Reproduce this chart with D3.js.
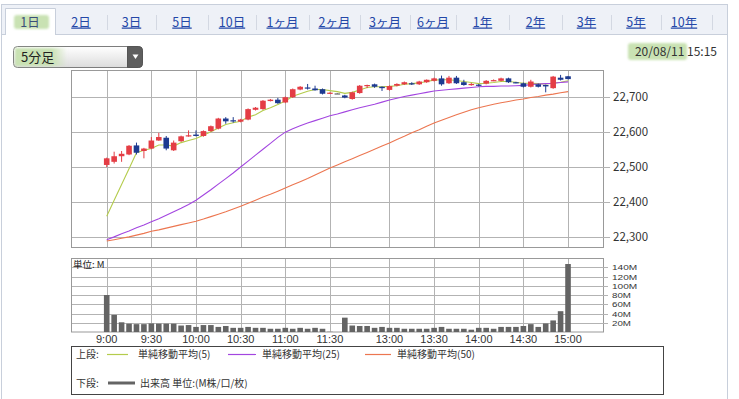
<!DOCTYPE html>
<html>
<head>
<meta charset="utf-8">
<script src="https://cdn.jsdelivr.net/npm/d3@7"></script>
<style>
body { margin: 0; background: #fff; }
svg { display: block; font-family: "Noto Sans CJK JP", "Noto Sans", sans-serif; }
</style>
</head>
<body>
<svg width="739" height="399"></svg>
<script>
// 5-minute bars, slot 0 = 9:00 ... slot 62 = 15:00 (slot 31 = lunch gap)
var open = [22506,22515,22531,22536,22562,22546,22553,22576,22584,22548,
    22574,22588,22593,22589,22603,22610,22639,22634,22630,22636,
    22664,22666,22689,22693,22685,22700,22722,22728,22725,22723,
    22711,22711,22705,22695,22712,22733,22737,22730,22721,22733,
    22737,22740,22737,22743,22747,22754,22740,22756,22743,22736,
    22736,22739,22747,22747,22754,22743,22740,22730,22737,22735,
    22726,22756,22760];
var high = [22527,22544,22546,22563,22570,22555,22586,22598,22589,22576,
    22590,22605,22605,22605,22619,22641,22643,22643,22638,22668,
    22672,22692,22695,22698,22702,22725,22732,22738,22733,22725,
    22714,22712,22707,22716,22735,22736,22739,22731,22734,22740,
    22745,22743,22747,22751,22756,22762,22761,22761,22750,22741,
    22738,22749,22751,22756,22756,22744,22742,22750,22739,22736,
    22761,22764,22761];
var low = [22500,22510,22515,22534,22536,22525,22551,22575,22548,22546,
    22572,22587,22588,22587,22601,22608,22624,22627,22628,22634,
    22662,22664,22688,22681,22683,22698,22720,22722,22719,22708,
    22710,22710,22697,22693,22710,22726,22727,22718,22719,22731,
    22735,22735,22735,22741,22745,22733,22738,22738,22733,22733,
    22731,22737,22746,22745,22741,22740,22728,22728,22728,22714,
    22724,22748,22751];
var close = [22525,22531,22538,22561,22541,22553,22576,22586,22553,22570,
    22588,22591,22589,22603,22617,22639,22631,22631,22636,22666,
    22670,22690,22693,22683,22700,22723,22730,22726,22720,22710,
    22713,22711,22699,22714,22733,22735,22730,22726,22732,22738,
    22743,22737,22745,22750,22754,22737,22756,22740,22735,22738,
    22734,22747,22749,22754,22743,22742,22730,22745,22730,22731,
    22759,22750,22752];
var volume = [80,37,21,18,17,17,18.5,18,18,18,
    14,15,11,15,15,11,13,9,9,11,
    9,9,7,7,9,7,9,7,9,7,
    0.5,0,31,14,13,13,9,11,9,9,
    7,7,7,7,9,11,7,7,7,5,
    9,9,7,11,11,11,13,17,11,18.5,
    25,45,147];
var ma5 = [22359,22405,22450,22495,22541,22548,22553,22563,22563,22560,
    22570,22576,22582,22591,22601,22612,22622,22627,22631,22643,
    22650,22662,22670,22679,22689,22703,22710,22717,22722,22722,
    22719,22716,22711,22714,22721,22728,22730,22730,22731,22733,
    22737,22739,22741,22745,22749,22750,22750,22748,22745,22742,
    22739,22740,22742,22745,22745,22743,22740,22740,22739,22738,
    22740,22743,22747];
var ma25 = [22292,22300,22309,22317,22326,22334,22343,22352,22362,22372,
    22382,22393,22405,22420,22435,22451,22467,22483,22500,22517,
    22534,22551,22568,22585,22600,22610,22618,22626,22633,22640,
    22647,22652,22658,22664,22670,22675,22680,22686,22692,22697,
    22702,22706,22710,22714,22718,22720,22722,22724,22726,22728,
    22730,22731,22731,22732,22732,22733,22734,22736,22738,22739,
    22740,22742,22744];
var ma50 = [22288,22292,22296,22300,22305,22310,22316,22320,22325,22330,
    22335,22340,22345,22351,22358,22365,22372,22380,22388,22396,
    22405,22414,22422,22431,22440,22449,22458,22467,22477,22487,
    22497,22506,22515,22524,22533,22542,22551,22560,22569,22579,
    22588,22598,22607,22617,22626,22634,22642,22650,22657,22664,
    22670,22675,22680,22684,22688,22692,22695,22699,22702,22706,
    22709,22713,22716];

var timeSlots = [0, 6, 12, 18, 24, 30, 38, 44, 50, 56, 62];
var timeLabels = ["9:00","9:30","10:00","10:30","11:00","11:30","13:00","13:30","14:00","14:30","15:00"];
var priceTicks = [22300, 22400, 22500, 22600, 22700];
var volTicks = [20, 40, 60, 80, 100, 120, 140];
var tabLabels = ["1日","2日","3日","5日","10日","1ヶ月","2ヶ月","3ヶ月","6ヶ月","1年","2年","3年","5年","10年"];
var tabSeps = [55, 107, 156, 208, 256, 309, 360, 410, 456, 509, 562, 611, 661, 712];

var svg = d3.select("svg");
var defs = svg.append("defs");
defs.append("filter").attr("id", "soft")
    .append("feGaussianBlur").attr("stdDeviation", 1.2);
var g1 = defs.append("linearGradient").attr("id", "dd").attr("x1", 0).attr("x2", 0).attr("y1", 0).attr("y2", 1);
g1.append("stop").attr("offset", "0%").attr("stop-color", "#ffffff");
g1.append("stop").attr("offset", "100%").attr("stop-color", "#dcdcdc");
var g2 = defs.append("linearGradient").attr("id", "hl");
g2.append("stop").attr("offset", "0%").attr("stop-color", "#c9e2b3");
g2.append("stop").attr("offset", "70%").attr("stop-color", "#c9e2b3");
g2.append("stop").attr("offset", "100%").attr("stop-color", "#c9e2b3").attr("stop-opacity", 0);

// outer frame and tab bar
svg.append("rect").attr("x", 1.5).attr("y", 4.5).attr("width", 726).attr("height", 400)
    .attr("fill", "#fff").attr("stroke", "#c8cfdb");
svg.append("rect").attr("x", 2).attr("y", 5).attr("width", 725).attr("height", 29.5).attr("fill", "#eef1f7");
svg.append("line").attr("x1", 2).attr("x2", 727).attr("y1", 34.5).attr("y2", 34.5).attr("stroke", "#c8cfdb");
svg.append("path").attr("d", "M5.5,35V8.5H55.5V35").attr("fill", "#fff").attr("stroke", "#c8cfdb");
svg.append("rect").attr("x", 6).attr("y", 34).attr("width", 49).attr("height", 2).attr("fill", "#fff");
svg.append("rect").attr("x", 14).attr("y", 15).attr("width", 35).attr("height", 14).attr("rx", 3)
    .attr("fill", "#c9e2b3").attr("filter", "url(#soft)");

tabSeps.slice(1).forEach(function(s) {
    svg.append("line").attr("x1", s + 0.5).attr("x2", s + 0.5).attr("y1", 15).attr("y2", 30).attr("stroke", "#d3d8e2");
});
tabLabels.forEach(function(t, i) {
    var left = i == 0 ? 5 : tabSeps[i - 1];
    var cx = (left + tabSeps[i]) / 2;
    if (i == tabLabels.length - 1) cx = 684;
    svg.append("text").attr("x", cx).attr("y", 26.5).attr("text-anchor", "middle")
        .attr("font-size", 12.5).attr("fill", i == 0 ? "#3b4f7a" : "#2347a8")
        .attr("text-decoration", i == 0 ? "none" : "underline")
        .text(t);
});

// dropdown
svg.append("rect").attr("x", 13.5).attr("y", 46.5).attr("width", 129).attr("height", 21).attr("rx", 4)
    .attr("fill", "url(#dd)").attr("stroke", "#7d7d7d");
svg.append("path").attr("d", "M127.5,46.5H138.5A4,4 0 0 1 142.5,50.5V63.5A4,4 0 0 1 138.5,67.5H127.5Z")
    .attr("fill", "#5e5e5e").attr("stroke", "#555");
svg.append("path").attr("d", "M132.5,54.5L138.5,54.5L135.5,59Z").attr("fill", "#fff");
svg.append("rect").attr("x", 15).attr("y", 48).attr("width", 52).attr("height", 18)
    .attr("fill", "url(#hl)").attr("filter", "url(#soft)");
svg.append("text").attr("x", 21).attr("y", 61.5).attr("font-size", 13).attr("fill", "#222").text("5分足");

// date
svg.append("rect").attr("x", 628).attr("y", 43).attr("width", 59).attr("height", 17).attr("rx", 3)
    .attr("fill", "#c9e2b3").attr("filter", "url(#soft)");
svg.append("text").attr("x", 717).attr("y", 56).attr("text-anchor", "end").attr("font-size", 12)
    .attr("fill", "#333").text("20/08/11 15:15");

// scales
var x = d3.scaleLinear().domain([-4.8, 66.7]).range([71, 603]);
var y = d3.scaleLinear().domain([22271, 22778]).range([247, 70]);
var yv = d3.scaleLinear().domain([0, 160]).range([332, 258]);

var grid = "#b3b3b3";
var price = svg.append("g");
price.append("rect").attr("x", 71.5).attr("y", 70.5).attr("width", 532).attr("height", 177)
    .attr("fill", "#fff").attr("stroke", "#999");
price.selectAll(".vg").data(timeSlots).enter().append("line")
    .attr("x1", d => Math.round(x(d)) + 0.5).attr("x2", d => Math.round(x(d)) + 0.5)
    .attr("y1", 71).attr("y2", 247).attr("stroke", grid);
price.selectAll(".hg").data(priceTicks).enter().append("line")
    .attr("x1", 72).attr("x2", 610)
    .attr("y1", d => Math.round(y(d)) + 0.5).attr("y2", d => Math.round(y(d)) + 0.5)
    .attr("stroke", grid);
price.selectAll(".pl").data(priceTicks).enter().append("text")
    .attr("x", 613).attr("y", d => y(d) + 4).attr("font-size", 11.5).attr("fill", "#333")
    .text(d => d3.format(",")(d));

// moving averages
var slots = d3.range(open.length);
[[ma5, "#b4cc4c"], [ma25, "#a346e0"], [ma50, "#ec7650"]].forEach(function(s) {
    var line = d3.line().x(i => x(i)).y(i => y(s[0][i]));
    price.append("path").attr("d", line(slots)).attr("fill", "none")
        .attr("stroke", s[1]).attr("stroke-width", 1.1);
});

// candles
function colour(i) {
    if (close[i] > open[i]) return "#e43d45";
    if (close[i] < open[i]) return "#1d3a90";
    return "#666";
}
var c = price.selectAll(".c").data(slots).enter().append("g");
c.append("line")
    .attr("x1", i => x(i)).attr("x2", i => x(i))
    .attr("y1", i => y(high[i])).attr("y2", i => y(low[i]))
    .attr("stroke", colour).attr("stroke-width", 1);
c.append("rect")
    .attr("x", i => x(i) - 2.8).attr("width", 5.6)
    .attr("y", i => y(Math.max(open[i], close[i])))
    .attr("height", i => Math.max(1.2, Math.abs(y(open[i]) - y(close[i]))))
    .attr("fill", colour);

// volume panel
var vol = svg.append("g");
vol.append("rect").attr("x", 71.5).attr("y", 258.5).attr("width", 532).attr("height", 73.5)
    .attr("fill", "#fff").attr("stroke", "#999");
vol.selectAll(".vh").data(volTicks).enter().append("line")
    .attr("x1", 72).attr("x2", 608)
    .attr("y1", d => Math.round(yv(d)) + 0.5).attr("y2", d => Math.round(yv(d)) + 0.5)
    .attr("stroke", grid);
vol.selectAll(".vv").data(timeSlots).enter().append("line")
    .attr("x1", d => Math.round(x(d)) + 0.5).attr("x2", d => Math.round(x(d)) + 0.5)
    .attr("y1", 259).attr("y2", 332).attr("stroke", grid);
vol.selectAll(".vb").data(slots).enter().append("rect")
    .attr("x", i => x(i) - 2.8).attr("width", 5.6)
    .attr("y", i => yv(volume[i])).attr("height", i => yv(0) - yv(volume[i]))
    .attr("fill", "#646464");
// labels are packed tightly, so a short font stretched sideways
vol.selectAll(".vl").data(volTicks).enter().append("text")
    .attr("x", 612).attr("y", d => yv(d) + 3.2)
    .attr("font-family", "Liberation Sans").attr("font-size", 8.1).attr("fill", "#333")
    .attr("textLength", d => (d + "M").length * 6.3).attr("lengthAdjust", "spacingAndGlyphs")
    .text(d => d + "M");
vol.append("text").attr("x", 73).attr("y", 268).attr("font-size", 9.5).attr("fill", "#222").text("単位: M");

// time axis
svg.selectAll(".tl").data(timeSlots).enter().append("text")
    .attr("x", d => x(d)).attr("y", 343).attr("text-anchor", "middle")
    .attr("font-family", "Liberation Sans").attr("font-size", 11).attr("fill", "#333")
    .text((d, i) => timeLabels[i]);

// legend
var lg = svg.append("g").attr("font-size", 10).attr("fill", "#333");
lg.append("rect").attr("x", 71.5).attr("y", 346.5).attr("width", 592).attr("height", 48)
    .attr("fill", "#fff").attr("stroke", "#444");
lg.append("text").attr("x", 76).attr("y", 358).text("上段:");
[[107, 128, "#b4cc4c", 138, "単純移動平均(5)"],
 [228, 256, "#a346e0", 262, "単純移動平均(25)"],
 [365, 391, "#ec7650", 397, "単純移動平均(50)"]].forEach(function(l) {
    lg.append("line").attr("x1", l[0]).attr("x2", l[1]).attr("y1", 354.5).attr("y2", 354.5)
        .attr("stroke", l[2]).attr("stroke-width", 1.2);
    lg.append("text").attr("x", l[3]).attr("y", 358).text(l[4]);
});
lg.append("text").attr("x", 76).attr("y", 387).text("下段:");
lg.append("line").attr("x1", 108).attr("x2", 135).attr("y1", 383).attr("y2", 383)
    .attr("stroke", "#646464").attr("stroke-width", 3);
lg.append("text").attr("x", 140).attr("y", 387).text("出来高 単位:(M株/口/枚)");
</script>
</body>
</html>
